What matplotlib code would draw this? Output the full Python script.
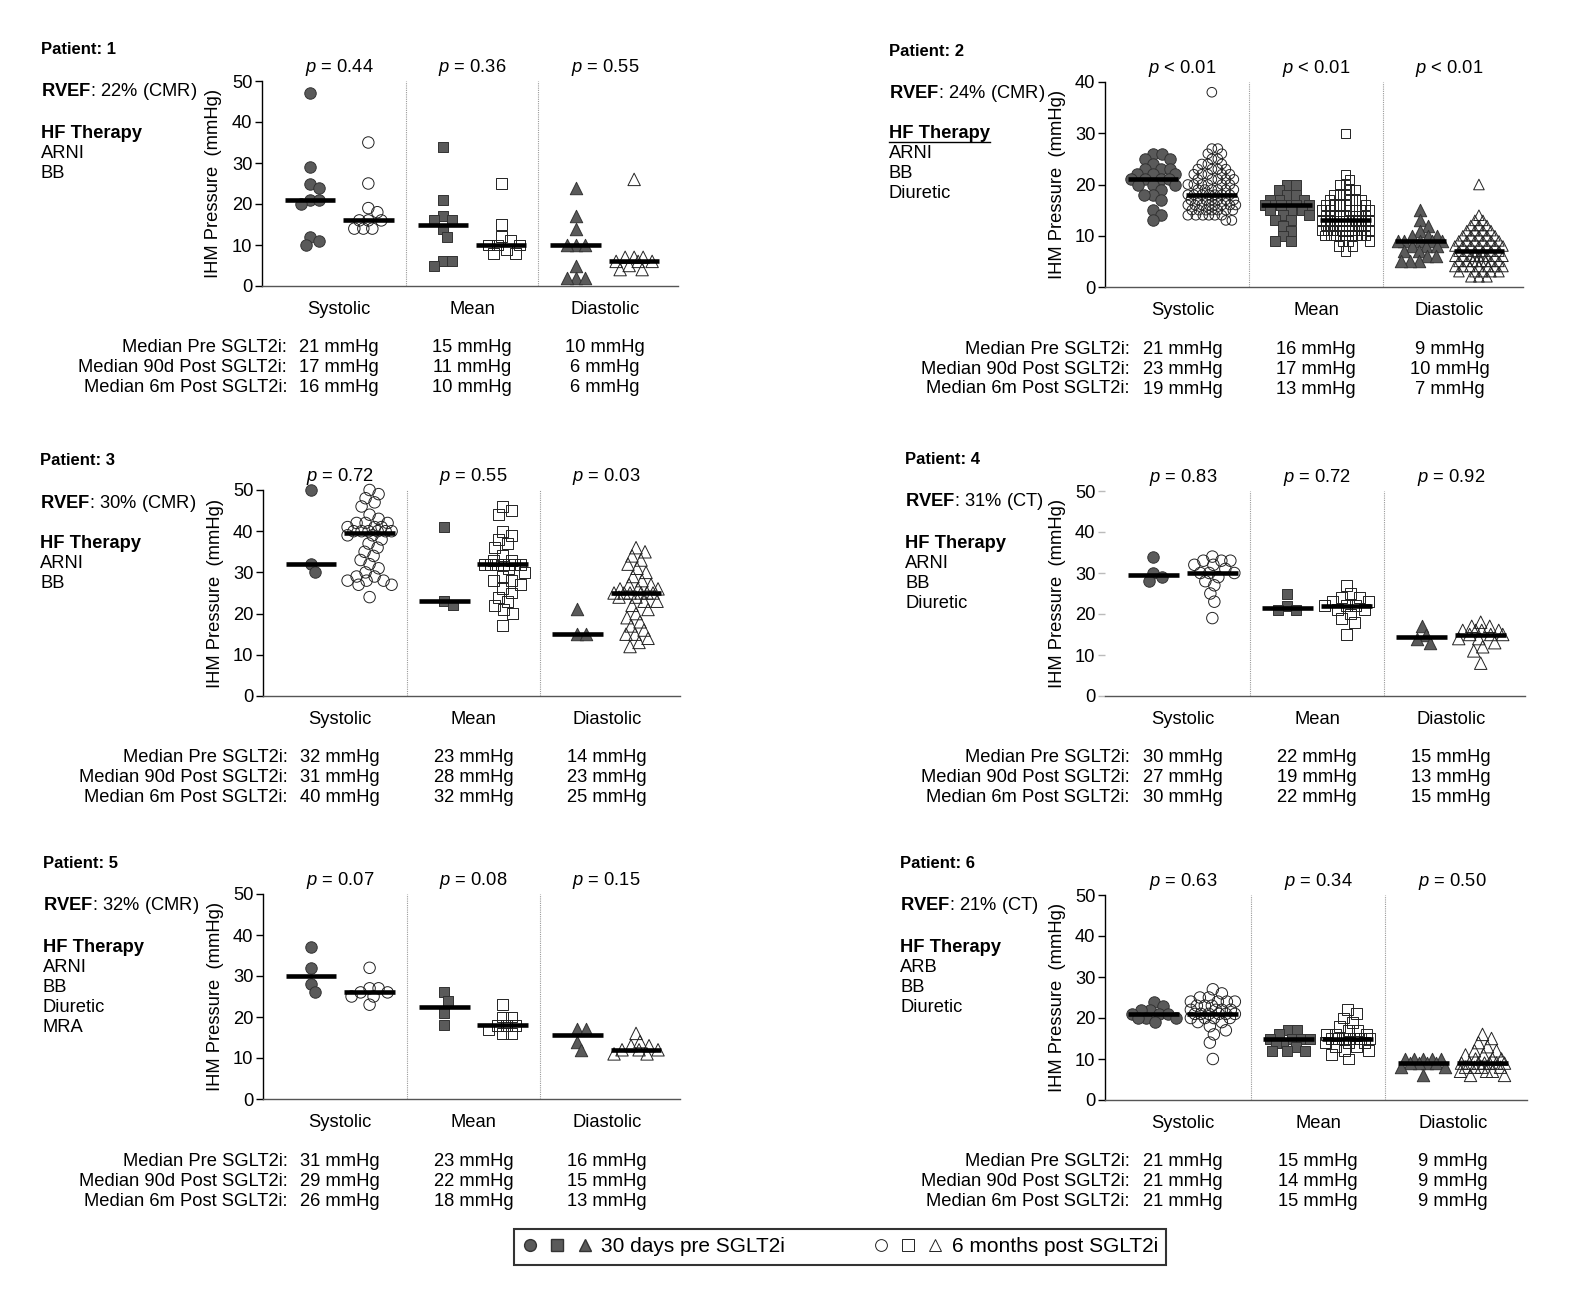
# IHM pressure per patient: 30 days pre SGLT2i vs 6 months post SGLT2i
import numpy as np
import matplotlib.pyplot as plt
from matplotlib.lines import Line2D
from matplotlib.legend_handler import HandlerTuple

plt.rcParams['font.family'] = ['Liberation Sans', 'DejaVu Sans']
plt.rcParams['mathtext.fontset'] = 'custom'
plt.rcParams['mathtext.rm'] = 'Liberation Sans'
plt.rcParams['mathtext.it'] = 'Liberation Sans:italic'
plt.rcParams['mathtext.bf'] = 'Liberation Sans:bold'

W, H = 1587, 1298

# --------------------------------------------------
# data (mmHg)

categories = ['Systolic', 'Mean', 'Diastolic']
row_labels = ['Median Pre SGLT2i:', 'Median 90d Post SGLT2i:', 'Median 6m Post SGLT2i:']

# patient 1
p1_sys_pre = [47, 29, 25, 24, 21, 21, 20, 12, 11, 10]
p1_sys_post = [35, 25, 19, 18, 16, 16, 16, 14, 14, 14]
p1_mean_pre = [34, 21, 17, 16, 16, 14, 12, 6, 6, 5]
p1_mean_post = [25, 15, 12, 11, 10, 10, 10, 9, 8, 8]
p1_dia_pre = [24, 17, 14, 10, 10, 10, 5, 2, 2, 2]
p1_dia_post = [26, 7, 7, 7, 6, 6, 6, 5, 4, 4]

# patient 2
p2_sys_pre = [26, 26, 25, 25, 24, 23, 23, 23, 22, 22, 22, 21, 21, 21, 21, 20, 20,
              20, 19, 18, 18, 17, 15, 14, 13]
p2_sys_post = [38, 27, 27, 26, 26, 25, 25, 24, 24, 24, 23, 23, 23, 23, 22, 22, 22,
               22, 22, 21, 21, 21, 21, 21, 20, 20, 20, 20, 20, 20, 19, 19, 19, 19,
               19, 19, 18, 18, 18, 18, 18, 18, 18, 17, 17, 17, 17, 17, 17, 17, 16,
               16, 16, 16, 16, 16, 16, 16, 15, 15, 15, 15, 15, 15, 15, 14, 14, 14,
               14, 14, 14, 13, 13]
p2_mean_pre = [20, 20, 19, 18, 18, 17, 17, 17, 16, 16, 16, 16, 16, 16, 15, 15, 15,
               14, 14, 13, 13, 12, 11, 10, 9, 9]
p2_mean_post = [30, 22, 21, 20, 20, 19, 19, 18, 18, 18, 17, 17, 17, 17, 16, 16, 16,
                16, 16, 15, 15, 15, 15, 15, 15, 14, 14, 14, 14, 14, 14, 14, 13, 13,
                13, 13, 13, 13, 13, 13, 12, 12, 12, 12, 12, 12, 12, 12, 11, 11, 11,
                11, 11, 11, 11, 11, 11, 10, 10, 10, 10, 10, 10, 10, 10, 10, 9, 9, 9,
                8, 8, 7]
p2_dia_pre = [15, 13, 12, 11, 10, 10, 10, 9, 9, 9, 9, 9, 8, 8, 8, 7, 7, 6, 6, 5, 5, 5]
p2_dia_post = [20, 14, 13, 13, 12, 12, 12, 11, 11, 11, 11, 10, 10, 10, 10, 10, 9, 9,
               9, 9, 9, 9, 8, 8, 8, 8, 8, 8, 8, 7, 7, 7, 7, 7, 7, 6, 6, 6, 6, 6, 6,
               6, 6, 6, 5, 5, 5, 5, 5, 5, 5, 5, 4, 4, 4, 4, 4, 4, 4, 3, 3, 3, 3, 3,
               2, 2, 2]

# patient 3
p3_sys_pre = [50, 32, 30]
p3_sys_post = [50, 49, 48, 47, 46, 44, 43, 42, 42, 42, 41, 41, 41, 40, 40, 40, 40,
               40, 40, 39, 39, 38, 37, 36, 35, 34, 33, 32, 31, 30, 29, 29, 28, 28,
               28, 27, 27, 24]
p3_mean_pre = [41, 23, 22]
p3_mean_post = [46, 45, 44, 40, 39, 38, 37, 36, 34, 33, 33, 32, 32, 32, 32, 32, 32,
                31, 30, 29, 28, 28, 27, 26, 25, 24, 23, 22, 21, 20, 17]
p3_dia_pre = [21, 15, 15]
p3_dia_post = [36, 35, 34, 33, 32, 31, 30, 29, 28, 27, 27, 26, 26, 26, 25, 25, 25,
               25, 25, 25, 24, 24, 23, 23, 22, 21, 20, 19, 18, 17, 16, 15, 15, 14,
               13, 12]

# patient 4
p4_sys_pre = [34, 30, 29, 28]
p4_sys_post = [34, 33, 33, 33, 32, 32, 31, 30, 30, 30, 29, 28, 27, 25, 23, 19]
p4_mean_pre = [25, 22, 21, 21]
p4_mean_post = [27, 25, 24, 24, 23, 23, 22, 22, 22, 21, 21, 20, 19, 18, 15]
p4_dia_pre = [17, 15, 14, 13]
p4_dia_post = [18, 17, 17, 16, 16, 16, 16, 15, 15, 15, 14, 14, 13, 12, 11, 8]

# patient 5
p5_sys_pre = [37, 32, 28, 26]
p5_sys_post = [32, 27, 27, 26, 26, 25, 25, 23]
p5_mean_pre = [26, 24, 21, 18]
p5_mean_post = [23, 20, 20, 18, 18, 18, 17, 16, 16]
p5_dia_pre = [17, 17, 14, 12]
p5_dia_post = [16, 14, 13, 13, 12, 12, 12, 11, 11]

# patient 6
p6_sys_pre = [24, 23, 22, 22, 21, 21, 21, 20, 20, 20, 19]
p6_sys_post = [27, 26, 25, 25, 24, 24, 24, 24, 23, 23, 23, 22, 22, 22, 22, 21, 21,
               21, 21, 21, 21, 20, 20, 20, 20, 19, 19, 18, 17, 16, 14, 10]
p6_mean_pre = [17, 17, 16, 15, 15, 15, 15, 14, 14, 13, 12, 12, 12]
p6_mean_post = [22, 21, 20, 19, 18, 17, 17, 16, 16, 16, 15, 15, 15, 15, 15, 15, 14,
                14, 14, 13, 13, 12, 12, 11, 10]
p6_dia_pre = [10, 10, 10, 10, 10, 9, 9, 9, 9, 8, 8, 6]
p6_dia_post = [16, 15, 14, 13, 12, 12, 11, 11, 10, 10, 10, 9, 9, 9, 9, 9, 9, 9, 8, 8,
               8, 8, 7, 7, 7, 6, 6]

# p-values (systolic, mean, diastolic)
p1_pvals = ['= 0.44', '= 0.36', '= 0.55']
p2_pvals = ['< 0.01', '< 0.01', '< 0.01']
p3_pvals = ['= 0.72', '= 0.55', '= 0.03']
p4_pvals = ['= 0.83', '= 0.72', '= 0.92']
p5_pvals = ['= 0.07', '= 0.08', '= 0.15']
p6_pvals = ['= 0.63', '= 0.34', '= 0.50']

# median table: rows = pre / 90d post / 6m post, cols = systolic, mean, diastolic
p1_medians = [[21, 15, 10], [17, 11, 6], [16, 10, 6]]
p2_medians = [[21, 16, 9], [23, 17, 10], [19, 13, 7]]
p3_medians = [[32, 23, 14], [31, 28, 23], [40, 32, 25]]
p4_medians = [[30, 22, 15], [27, 19, 13], [30, 22, 15]]
p5_medians = [[31, 23, 16], [29, 22, 15], [26, 18, 13]]
p6_medians = [[21, 15, 9], [21, 14, 9], [21, 15, 9]]

p1_rvef = '22% (CMR)'
p2_rvef = '24% (CMR)'
p3_rvef = '30% (CMR)'
p4_rvef = '31% (CT)'
p5_rvef = '32% (CMR)'
p6_rvef = '21% (CT)'

p1_therapy = ['ARNI', 'BB']
p2_therapy = ['ARNI', 'BB', 'Diuretic']
p3_therapy = ['ARNI', 'BB']
p4_therapy = ['ARNI', 'BB', 'Diuretic']
p5_therapy = ['ARNI', 'BB', 'Diuretic', 'MRA']
p6_therapy = ['ARB', 'BB', 'Diuretic']

# --------------------------------------------------
# panel layout (pixels): axes left, top, right, bottom, ymax, text x, patient y

panels = [
    dict(num=1, pre=[p1_sys_pre, p1_mean_pre, p1_dia_pre], post=[p1_sys_post, p1_mean_post, p1_dia_post],
         pvals=p1_pvals, med=p1_medians, rvef=p1_rvef, therapy=p1_therapy,
         box=(262, 81, 678, 286), ymax=50, tx=41, ty=50, underline=False, spine=True),
    dict(num=2, pre=[p2_sys_pre, p2_mean_pre, p2_dia_pre], post=[p2_sys_post, p2_mean_post, p2_dia_post],
         pvals=p2_pvals, med=p2_medians, rvef=p2_rvef, therapy=p2_therapy,
         box=(1105, 82, 1523, 287), ymax=40, tx=889, ty=51, underline=True, spine=True),
    dict(num=3, pre=[p3_sys_pre, p3_mean_pre, p3_dia_pre], post=[p3_sys_post, p3_mean_post, p3_dia_post],
         pvals=p3_pvals, med=p3_medians, rvef=p3_rvef, therapy=p3_therapy,
         box=(263, 490, 680, 696), ymax=50, tx=40, ty=461, underline=False, spine=True),
    dict(num=4, pre=[p4_sys_pre, p4_mean_pre, p4_dia_pre], post=[p4_sys_post, p4_mean_post, p4_dia_post],
         pvals=p4_pvals, med=p4_medians, rvef=p4_rvef, therapy=p4_therapy,
         box=(1105, 491, 1525, 696), ymax=50, tx=905, ty=460, underline=False, spine=False),
    dict(num=5, pre=[p5_sys_pre, p5_mean_pre, p5_dia_pre], post=[p5_sys_post, p5_mean_post, p5_dia_post],
         pvals=p5_pvals, med=p5_medians, rvef=p5_rvef, therapy=p5_therapy,
         box=(263, 894, 680, 1099), ymax=50, tx=43, ty=864, underline=False, spine=True),
    dict(num=6, pre=[p6_sys_pre, p6_mean_pre, p6_dia_pre], post=[p6_sys_post, p6_mean_post, p6_dia_post],
         pvals=p6_pvals, med=p6_medians, rvef=p6_rvef, therapy=p6_therapy,
         box=(1105, 895, 1527, 1100), ymax=50, tx=900, ty=864, underline=False, spine=True),
]

XLIM = (-0.58, 2.55)
OFFSET = 0.22       # group offset from category centre
HALF = 0.19         # half width of median bar
MARKERS = ['o', 's', '^']
SIZES = [68, 62, 80]
SIZES_DENSE = [48, 46, 58]
FILL = '#5a5a5a'
FS = 13.2


def swarm(values, ppx, ppy, diam, maxhalf):
    """beeswarm offsets in data x-units"""
    placed = []
    offs = []
    cands = [0.0]
    for k in range(1, int(maxhalf) + 1):
        cands += [k, -k]
    for v in values:
        y = v * ppy
        best, bestd = 0.0, -1
        for c in cands:
            if placed:
                d = min(np.hypot(c - px, y - py) for px, py in placed)
            else:
                d = 1e9
            if d >= diam:
                best = c
                break
            if d > bestd:
                best, bestd = c, d
        placed.append((best, y))
        offs.append(best / ppx)
    return np.array(offs)


def fx(px):
    return px / W


def fy(py):
    return 1 - py / H


fig = plt.figure(figsize=(W / 100, H / 100), dpi=100)

hf_texts = []
for p in panels:
    l, t, r, b = p['box']
    ax = fig.add_axes([fx(l), fy(b), (r - l) / W, (b - t) / H])
    ax.set_xlim(*XLIM)
    ax.set_ylim(0, p['ymax'])
    ppx = (r - l) / (XLIM[1] - XLIM[0])
    ppy = (b - t) / p['ymax']

    for k in range(3):
        for grp, vals in (('pre', p['pre'][k]), ('post', p['post'][k])):
            xc = k - OFFSET if grp == 'pre' else k + OFFSET
            dense = len(vals) > 40
            sz = SIZES_DENSE[k] if dense else SIZES[k]
            xs = xc + swarm(vals, ppx, ppy, 6.0 if dense else 9.0, 24 if dense else 22)
            if grp == 'pre':
                ax.scatter(xs, vals, marker=MARKERS[k], s=sz, facecolor=FILL,
                           edgecolor='#333333', linewidth=0.7, zorder=3, clip_on=False)
            else:
                ax.scatter(xs, vals, marker=MARKERS[k], s=sz, facecolor='none',
                           edgecolor='#222222', linewidth=0.7, zorder=3, clip_on=False)
            ax.hlines(np.median(vals), xc - HALF, xc + HALF, color='black', lw=3.3, zorder=4)

        ax.annotate(r'$\mathit{p}$ ' + p['pvals'][k], xy=(k, 1), xycoords=('data', 'axes fraction'),
                    xytext=(0, 9.5), textcoords='offset points', ha='center', va='center', fontsize=FS)
        for i in range(3):
            ax.annotate('%d mmHg' % p['med'][i][k], xy=(k, 0), xycoords=('data', 'axes fraction'),
                        xytext=(0, -(62 + 20 * i) * 0.72), textcoords='offset points',
                        ha='center', va='center', fontsize=FS)

    for xd in (0.5, 1.5):
        ax.axvline(xd, color='#9a9a9a', lw=0.8, ls=(0, (1, 1)), zorder=1)

    for i, lab in enumerate(row_labels):
        fig.text(fx(l + 25), fy(b + 62 + 20 * i), lab, ha='right', va='center', fontsize=FS)

    ax.spines['top'].set_visible(False)
    ax.spines['right'].set_visible(False)
    ax.spines['bottom'].set_color('#555555')
    ax.spines['bottom'].set_linewidth(1.0)
    ax.spines['left'].set_linewidth(1.0)
    ax.set_yticks(np.arange(0, p['ymax'] + 1, 10))
    ax.set_xticks(range(3))
    ax.set_xticklabels(categories)
    ax.tick_params(axis='x', length=0, pad=11, labelsize=FS)
    ax.tick_params(axis='y', length=5, width=1, labelsize=FS, pad=2)
    if not p['spine']:
        ax.spines['left'].set_visible(False)
        ax.tick_params(axis='y', color='#bbbbbb')
    fig.text(fx(l - 48), fy((t + b) / 2), 'IHM Pressure  (mmHg)', rotation=90,
             ha='center', va='center', fontsize=FS)

    # patient info
    x0, y0 = fx(p['tx']), p['ty']
    fig.text(x0, fy(y0), 'Patient: %d' % p['num'], fontweight='bold', fontsize=12, va='center')
    fig.text(x0, fy(y0 + 42), r'$\mathbf{RVEF}$: ' + p['rvef'], fontsize=FS, va='center')
    hf = fig.text(x0, fy(y0 + 83), 'HF Therapy', fontweight='bold', fontsize=FS, va='center')
    if p['underline']:
        hf_texts.append(hf)
    for j, th in enumerate(p['therapy']):
        fig.text(x0, fy(y0 + 103 + 20 * j), th, fontsize=FS, va='center')

# underline "HF Therapy"
fig.canvas.draw()
for hf in hf_texts:
    bb = hf.get_window_extent().transformed(fig.transFigure.inverted())
    fig.add_artist(Line2D([bb.x0, bb.x1], [bb.y0 + 0.0005, bb.y0 + 0.0005],
                          transform=fig.transFigure, color='black', lw=1))

# legend
pre_h = tuple(Line2D([], [], marker=m, ls='none', markersize=8.5, markerfacecolor=FILL,
                     markeredgecolor='#333333') for m in MARKERS)
post_h = tuple(Line2D([], [], marker=m, ls='none', markersize=8.5, markerfacecolor='none',
                      markeredgecolor='#222222', markeredgewidth=0.7) for m in MARKERS)
leg = fig.legend([pre_h, post_h], ['30 days pre SGLT2i', '6 months post SGLT2i'],
                 handler_map={tuple: HandlerTuple(ndivide=None, pad=0.5)},
                 loc='center', bbox_to_anchor=(fx(840), fy(1247)), ncol=2, fontsize=15,
                 frameon=True, fancybox=False, edgecolor='black', handlelength=3.4,
                 handletextpad=0.4, columnspacing=4.2, borderpad=0.4)
leg.get_frame().set_linewidth(1.5)

fig.savefig('out.png', dpi=100, facecolor='white')
